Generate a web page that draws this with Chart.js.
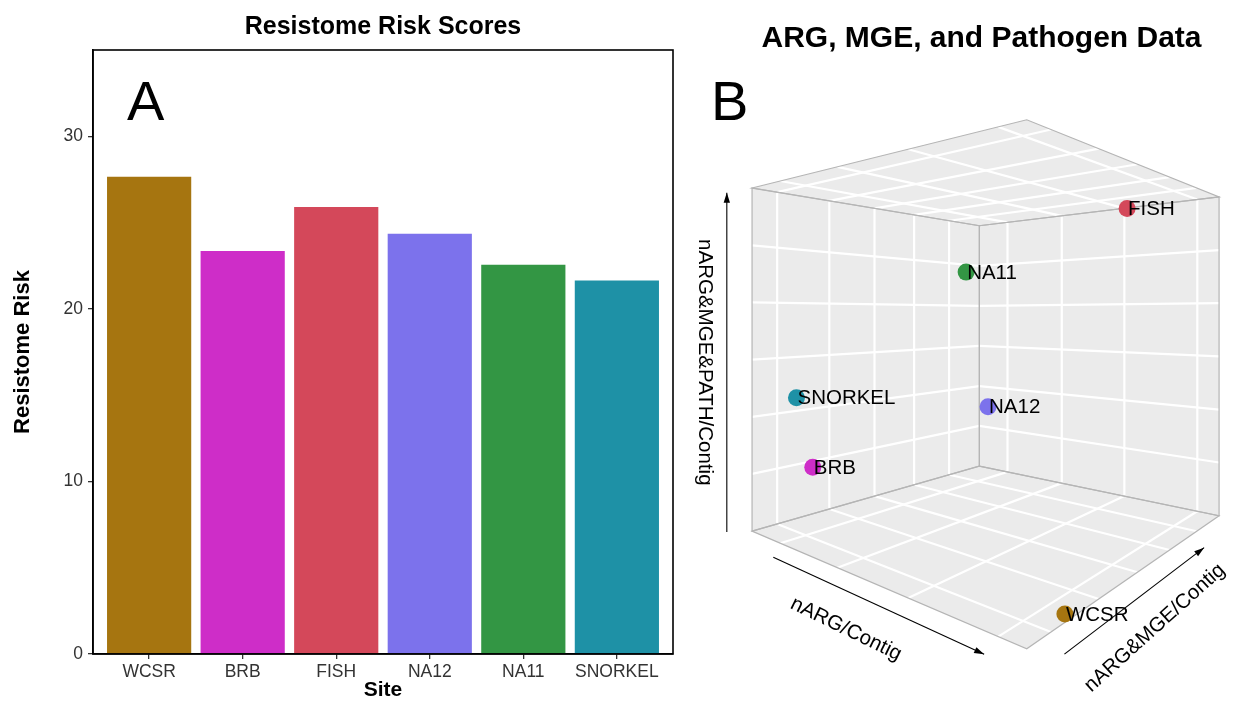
<!DOCTYPE html>
<html>
<head>
<meta charset="utf-8">
<title>Resistome Risk Scores / ARG, MGE, and Pathogen Data</title>
<script src="https://cdn.jsdelivr.net/npm/chart.js@4.4.1/dist/chart.umd.min.js"></script>
<style>
  html, body { margin: 0; padding: 0; background: #fff; }
  #wrap { position: relative; width: 1243px; height: 705px; }
  #barChart { position: absolute; left: 0; top: 0; }
  #cubeChart { position: absolute; left: 680px; top: 0; }
</style>
</head>
<body>
<div id="wrap">
  <canvas id="barChart" width="680" height="705"></canvas>
  <canvas id="cubeChart" width="563" height="705"></canvas>
</div>
<script>
// --- Data ---
const sites = ["WCSR", "BRB", "FISH", "NA12", "NA11", "SNORKEL"];
const siteColors = ["#A67510", "#CE2DC8", "#D4485A", "#7C72EC", "#339644", "#1E91A6"];
const riskScores = [27.65, 23.35, 25.9, 24.35, 22.55, 21.65];
const riskTicks = [0, 10, 20, 30];

// panel B: where each site sits inside the box, as a fraction of each axis range
const nArgContig        = [0.98, 0.08, 0.76, 0.39, 0.33, 0.04];
const nArgMgeContig     = [0.16, 0.15, 0.85, 0.60, 0.56, 0.12];
const nArgMgePathContig = [0.0, 0.17, 0.97, 0.33, 0.77, 0.38];

// grid breaks on the box panels (same fractions)
const xBreaks = [0.15, 0.41, 0.67, 0.93];
const zBreaks = [0.08, 0.265, 0.45, 0.635, 0.82];
const yBreaks = [0.167, 0.333, 0.5, 0.667, 0.833];

const FONT = "'Liberation Sans', Arial, Helvetica, sans-serif";
Chart.defaults.font.family = FONT;

// --- Panel A: bar chart ---
const framePlugin = {
  id: "frame",
  afterDraw(chart) {
    const { ctx, chartArea: a } = chart;
    ctx.save();
    ctx.strokeStyle = "#000";
    ctx.lineWidth = 1.6;
    ctx.strokeRect(a.left, a.top, a.right - a.left, a.bottom - a.top);
    ctx.fillStyle = "#000";
    ctx.font = "56px " + FONT;
    ctx.textBaseline = "alphabetic";
    ctx.fillText("A", a.left + 34, a.top + 70);
    ctx.restore();
  }
};

new Chart(document.getElementById("barChart"), {
  type: "bar",
  data: {
    datasets: [{
      data: sites.map((s, i) => ({ x: i + 1, y: riskScores[i] })),
      backgroundColor: siteColors,
      borderWidth: 0,
      barPercentage: 0.9,
      categoryPercentage: 1
    }]
  },
  options: {
    responsive: false,
    animation: false,
    devicePixelRatio: 1,
    events: [],
    layout: { padding: { left: 0, right: 7, top: 0, bottom: 0 } },
    plugins: {
      legend: { display: false },
      tooltip: { enabled: false },
      title: {
        display: true,
        text: "Resistome Risk Scores",
        fullSize: false,
        color: "#000",
        font: { size: 25, weight: "bold" },
        padding: { top: 12, bottom: 8 }
      }
    },
    scales: {
      x: {
        type: "linear",
        min: 0.4,
        max: 6.6,
        offset: false,
        afterBuildTicks: s => { s.ticks = sites.map((_, i) => ({ value: i + 1 })); },
        afterFit: s => { s.height = 51; },
        ticks: { callback: v => sites[v - 1], color: "#333", font: { size: 17.5 }, padding: 3, maxRotation: 0, autoSkip: false },
        grid: { offset: false, drawOnChartArea: false, color: "#333", lineWidth: 1.3, tickLength: 5 },
        border: { color: "#000", width: 1.6 },
        title: { display: true, text: "Site", color: "#000", font: { size: 21, weight: "bold" }, padding: { top: 0, bottom: 2 } }
      },
      y: {
        min: 0,
        max: 35,
        afterBuildTicks: s => { s.ticks = riskTicks.map(v => ({ value: v })); },
        afterFit: s => { s.width = 93; },
        ticks: { color: "#333", font: { size: 17.5 }, padding: 5 },
        grid: { drawOnChartArea: false, color: "#333", lineWidth: 1.3, tickLength: 5 },
        border: { color: "#000", width: 1.6 },
        title: { display: true, text: "Resistome Risk", color: "#000", font: { size: 22, weight: "bold" }, padding: { top: 10, bottom: 0 } }
      }
    }
  },
  plugins: [framePlugin]
});

// --- Panel B: perspective box, points through a scatter chart ---
const cam = { azim: 39.4 * Math.PI / 180, dist: 3.75, eyeX: 0.04, eyeY: 0.266 };
const view = { w: 563, h: 705, cx: 322, cy: 313, fx: 640, fy: 635 }; // eye axis hits canvas at (cx, cy)

// fractions of the three axis ranges -> projected view coordinates
function project(nx, nz, ny) {
  const p = nx * 2 - 1, q = nz * 2 - 1, w = ny * 2 - 1;
  const c = Math.cos(cam.azim), s = Math.sin(cam.azim);
  const d = cam.dist - s * p + c * q;
  return { x: (c * p + s * q - cam.eyeX) / d, y: (w - cam.eyeY) / d };
}

function arrow(ctx, a, b) {
  ctx.beginPath();
  ctx.moveTo(a[0], a[1]);
  ctx.lineTo(b[0], b[1]);
  ctx.stroke();
  const t = Math.atan2(b[1] - a[1], b[0] - a[0]);
  const L = 10, W = 3.2;
  ctx.beginPath();
  ctx.moveTo(b[0], b[1]);
  ctx.lineTo(b[0] - L * Math.cos(t) + W * Math.sin(t), b[1] - L * Math.sin(t) - W * Math.cos(t));
  ctx.lineTo(b[0] - L * Math.cos(t) - W * Math.sin(t), b[1] - L * Math.sin(t) + W * Math.cos(t));
  ctx.closePath();
  ctx.fill();
}

// label placed off the arrow's midpoint; rot (degrees) overrides the arrow's own angle
function axisLabel(ctx, text, a, b, along, perp, rot) {
  const t = Math.atan2(b[1] - a[1], b[0] - a[0]);
  const mx = (a[0] + b[0]) / 2 + along * Math.cos(t) - perp * Math.sin(t);
  const my = (a[1] + b[1]) / 2 + along * Math.sin(t) + perp * Math.cos(t);
  ctx.save();
  ctx.translate(mx, my);
  ctx.rotate(rot * Math.PI / 180);
  ctx.textAlign = "center";
  ctx.textBaseline = "middle";
  ctx.fillText(text, 0, 0);
  ctx.restore();
}

const cubePlugin = {
  id: "cube",
  beforeDatasetsDraw(chart) {
    const { ctx } = chart;
    const xs = chart.scales.x, ys = chart.scales.y;
    const px = (nx, nz, ny) => {
      const v = project(nx, nz, ny);
      return [xs.getPixelForValue(v.x), ys.getPixelForValue(v.y)];
    };
    const faces = [
      [[0, 0, 0], [1, 0, 0], [1, 1, 0], [0, 1, 0]], // floor
      [[0, 0, 1], [1, 0, 1], [1, 1, 1], [0, 1, 1]], // top
      [[0, 0, 0], [0, 1, 0], [0, 1, 1], [0, 0, 1]], // left back wall
      [[0, 1, 0], [1, 1, 0], [1, 1, 1], [0, 1, 1]]  // right back wall
    ];
    ctx.save();
    ctx.fillStyle = "#EBEBEB";
    faces.forEach(f => {
      ctx.beginPath();
      f.forEach((c, i) => { const pt = px(...c); i ? ctx.lineTo(pt[0], pt[1]) : ctx.moveTo(pt[0], pt[1]); });
      ctx.closePath();
      ctx.fill();
    });

    // white grid
    const segs = [];
    [0, 1].forEach(ny => {
      xBreaks.forEach(g => segs.push([[g, 0, ny], [g, 1, ny]]));
      zBreaks.forEach(g => segs.push([[0, g, ny], [1, g, ny]]));
    });
    zBreaks.forEach(g => segs.push([[0, g, 0], [0, g, 1]]));
    yBreaks.forEach(g => segs.push([[0, 0, g], [0, 1, g]]));
    xBreaks.forEach(g => segs.push([[g, 1, 0], [g, 1, 1]]));
    yBreaks.forEach(g => segs.push([[0, 1, g], [1, 1, g]]));
    ctx.strokeStyle = "#FFFFFF";
    ctx.lineWidth = 2.2;
    segs.forEach(([a, b]) => {
      const p1 = px(...a), p2 = px(...b);
      ctx.beginPath();
      ctx.moveTo(p1[0], p1[1]);
      ctx.lineTo(p2[0], p2[1]);
      ctx.stroke();
    });

    // panel edges
    ctx.strokeStyle = "#B5B5B5";
    ctx.lineWidth = 1.2;
    faces.forEach(f => {
      ctx.beginPath();
      f.forEach((c, i) => { const pt = px(...c); i ? ctx.lineTo(pt[0], pt[1]) : ctx.moveTo(pt[0], pt[1]); });
      ctx.closePath();
      ctx.stroke();
    });

    // axis arrows and names
    ctx.strokeStyle = "#000";
    ctx.fillStyle = "#000";
    ctx.lineWidth = 1.1;
    const yA = [px(-0.05, -0.05, 0), px(-0.05, -0.05, 0.985)];
    const xA = [px(0.225, -0.065, 0), px(0.95, -0.065, 0)];
    const zA = [px(1.065, 0.03, 0), px(1.065, 0.71, 0)];
    arrow(ctx, ...yA);
    arrow(ctx, ...xA);
    arrow(ctx, ...zA);
    ctx.font = "20.5px " + FONT;
    axisLabel(ctx, "nARG&MGE&PATH/Contig", yA[0], yA[1], 0, -22, 90);
    axisLabel(ctx, "nARG/Contig", xA[0], xA[1], -20, 35, 26);
    axisLabel(ctx, "nARG&MGE/Contig", zA[0], zA[1], 0, 34, -42);

    // title and panel letter
    ctx.font = "bold 30px " + FONT;
    ctx.textAlign = "center";
    ctx.textBaseline = "alphabetic";
    ctx.fillText("ARG, MGE, and Pathogen Data", 301.5, 47);
    ctx.font = "56px " + FONT;
    ctx.textAlign = "left";
    ctx.fillText("B", 31, 120);
    ctx.restore();
  },
  afterDatasetsDraw(chart) {
    const { ctx } = chart;
    const meta = chart.getDatasetMeta(0);
    ctx.save();
    ctx.fillStyle = "#000";
    ctx.font = "20.5px " + FONT;
    ctx.textAlign = "left";
    ctx.textBaseline = "middle";
    meta.data.forEach((el, i) => ctx.fillText(sites[i], el.x + 1, el.y + 1));
    ctx.restore();
  }
};

new Chart(document.getElementById("cubeChart"), {
  type: "scatter",
  data: {
    datasets: [{
      data: sites.map((_, i) => project(nArgContig[i], nArgMgeContig[i], nArgMgePathContig[i])),
      pointRadius: 8.5,
      pointBackgroundColor: siteColors,
      pointBorderWidth: 0
    }]
  },
  options: {
    responsive: false,
    animation: false,
    devicePixelRatio: 1,
    events: [],
    layout: { padding: 0 },
    plugins: { legend: { display: false }, tooltip: { enabled: false } },
    scales: {
      x: { type: "linear", display: false, min: -view.cx / view.fx, max: (view.w - view.cx) / view.fx },
      y: { type: "linear", display: false, min: -(view.h - view.cy) / view.fy, max: view.cy / view.fy }
    }
  },
  plugins: [cubePlugin]
});
</script>
</body>
</html>
